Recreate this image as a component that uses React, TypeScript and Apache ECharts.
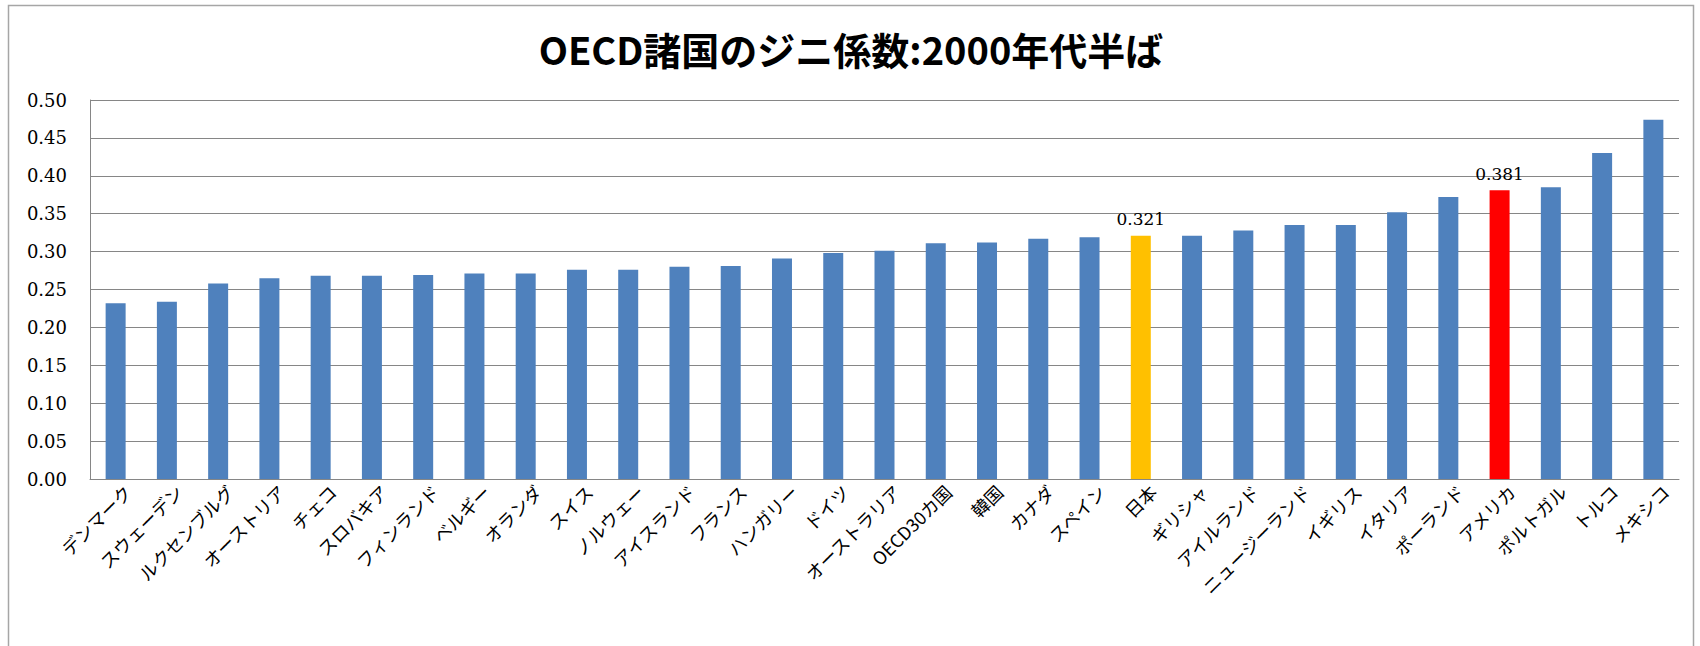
import React, { useEffect, useRef } from "react";
import * as echarts from "echarts";

const TITLE = "OECD諸国のジニ係数:2000年代半ば";

const categories = [
  "デンマーク", "スウェーデン", "ルクセンブルグ", "オーストリア", "チェコ", "スロバキア",
  "フィンランド", "ベルギー", "オランダ", "スイス", "ノルウェー", "アイスランド", "フランス",
  "ハンガリー", "ドイツ", "オーストラリア", "OECD30カ国", "韓国", "カナダ", "スペイン", "日本",
  "ギリシャ", "アイルランド", "ニュージーランド", "イギリス", "イタリア", "ポーランド",
  "アメリカ", "ポルトガル", "トルコ", "メキシコ",
];

const gini = [
  0.232, 0.234, 0.258, 0.265, 0.268, 0.268, 0.269, 0.271, 0.271, 0.276, 0.276, 0.28, 0.281,
  0.291, 0.298, 0.301, 0.311, 0.312, 0.317, 0.319, 0.321, 0.321, 0.328, 0.335, 0.335, 0.352,
  0.372, 0.381, 0.385, 0.43, 0.474,
];

const yTicks = { min: 0, max: 0.5, interval: 0.05 };

const highlighted: Record<string, string> = { 日本: "#FFC000", アメリカ: "#FF0000" };

export default function App() {
  const ref = useRef<HTMLDivElement>(null);
  useEffect(() => {
    if (!ref.current) return;
    const chart = echarts.init(ref.current, undefined, { renderer: "svg" });
    chart.setOption({
      animation: false,
      backgroundColor: "#ffffff",
      title: {
        text: TITLE,
        left: 846,
        top: 24,
        textAlign: "center",
        textStyle: {
          fontFamily: "Noto Sans CJK JP",
          fontWeight: "bold",
          fontSize: 38,
          color: "#000000",
        },
      },
      graphic: [
        {
          type: "rect",
          shape: { x: 8.5, y: 5.5, width: 1685, height: 700 },
          style: { fill: "none", stroke: "#a6a6a6", lineWidth: 1.5 },
          silent: true,
          z: -1,
        },
      ],
      grid: { left: 90, right: 21, top: 100, bottom: 167 },
      xAxis: {
        type: "category",
        data: categories,
        axisLine: { lineStyle: { color: "#868686", width: 1 } },
        axisTick: { show: false },
        axisLabel: {
          interval: 0,
          rotate: 45,
          margin: -3,
          verticalAlign: "top",
          padding: [8, 0, 0, 0],
          fontFamily: "Noto Sans CJK JP",
          fontSize: 18,
          color: "#000000",
        },
      },
      yAxis: {
        type: "value",
        min: yTicks.min,
        max: yTicks.max,
        interval: yTicks.interval,
        axisLine: { show: true, lineStyle: { color: "#868686", width: 1 } },
        axisTick: { show: false },
        splitLine: { lineStyle: { color: "#868686", width: 1 } },
        axisLabel: {
          margin: 23,
          fontFamily: "DejaVu Serif",
          fontSize: 18,
          color: "#000000",
          formatter: (v: number) => v.toFixed(2),
        },
      },
      series: [
        {
          type: "bar",
          barWidth: 20,
          data: gini.map((v, i) => {
            const c = highlighted[categories[i]];
            return c
              ? {
                  value: v,
                  itemStyle: { color: c },
                  label: {
                    show: true,
                    position: "top",
                    distance: 8,
                    fontFamily: "DejaVu Serif",
                    fontSize: 17,
                    color: "#000000",
                    formatter: (p: any) => p.value.toFixed(3),
                  },
                }
              : { value: v };
          }),
          itemStyle: { color: "#4F81BD" },
        },
      ],
    });
    return () => chart.dispose();
  }, []);
  return (
    <div
      ref={ref}
      style={{ position: "absolute", left: 0, top: 0, width: 1700, height: 646 }}
    />
  );
}
